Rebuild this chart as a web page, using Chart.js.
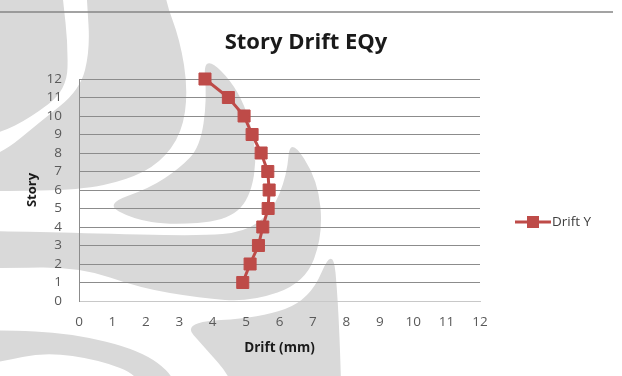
<!DOCTYPE html>
<html>
<head>
<meta charset="utf-8">
<script src="https://cdn.jsdelivr.net/npm/chart.js@4.4.0/dist/chart.umd.min.js"></script>
<style>
  html, body { margin: 0; padding: 0; background: #fff; }
  #wrap { width: 622px; height: 376px; }
</style>
</head>
<body>
<div id="wrap"><canvas id="chart" width="622" height="376"></canvas></div>
<script>
// Story levels and inter-storey drift (mm) for the EQy load case
const stories = [1, 2, 3, 4, 5, 6, 7, 8, 9, 10, 11, 12];
const driftY = [4.9, 5.12, 5.37, 5.5, 5.66, 5.69, 5.65, 5.45, 5.18, 4.94, 4.47, 3.77];
const driftRange = [0, 12];
const storyRange = [0, 12];

const seriesName = 'Drift Y';
const chartTitle = 'Story Drift EQy';
const xTitle = 'Drift (mm)';
const yTitle = 'Story';

const FONT = '"Open Sans", "DejaVu Sans", sans-serif';
const RED = '#BE4B48';

// faint logo shapes behind the chart
const logoShapes = [
  [[-30, -30], [60, -30], [63, 0], [68, 45], [67, 90], [30, 118], [0, 133], [-30, 138]],
  [[85, -30], [87, 0], [90, 50], [80, 90], [40, 122], [0, 155], [-30, 158], [-30, 192], [0, 191],
   [80, 190], [127, 180], [160, 163], [182, 133], [188, 90], [180, 40], [165, 0], [163, -30]],
  [[203, 53], [240, 90], [258, 150], [250, 200], [225, 221], [170, 225], [133, 219], [105, 204],
   [150, 188], [180, 168], [200, 147], [207, 100]],
  [[290, 137], [318, 180], [323, 235], [305, 283], [250, 302], [200, 298], [140, 288], [80, 267],
   [0, 268], [-30, 268], [-30, 231], [0, 231], [80, 233], [200, 236], [245, 232], [272, 212], [287, 175]],
  [[333, 245], [338, 300], [341, 376], [341, 400], [235, 400], [230, 376], [205, 348],
   [182, 322], [260, 318], [310, 300]],
  [[-30, 332], [0, 330], [70, 333], [140, 350], [175, 376], [175, 400], [140, 400], [140, 376],
   [100, 360], [45, 352], [0, 362], [-30, 365]]
];

function smoothPath(ctx, pts) {
  const n = pts.length;
  const mid = (a, b) => [(a[0] + b[0]) / 2, (a[1] + b[1]) / 2];
  const start = mid(pts[n - 1], pts[0]);
  ctx.beginPath();
  ctx.moveTo(start[0], start[1]);
  for (let i = 0; i < n; i++) {
    const p = pts[i];
    const m = mid(p, pts[(i + 1) % n]);
    ctx.quadraticCurveTo(p[0], p[1], m[0], m[1]);
  }
  ctx.closePath();
}

const watermark = {
  id: 'watermark',
  beforeDraw(chart) {
    const ctx = chart.ctx;
    ctx.save();
    ctx.fillStyle = '#fff';
    ctx.fillRect(0, 0, chart.width, chart.height);
    ctx.fillStyle = '#d9d9d9';
    logoShapes.forEach(pts => { smoothPath(ctx, pts); ctx.fill(); });
    // rule across the top of the page
    ctx.strokeStyle = '#858585';
    ctx.lineWidth = 1.5;
    ctx.beginPath();
    ctx.moveTo(0, 12);
    ctx.lineTo(613, 12);
    ctx.stroke();
    ctx.restore();
  }
};

// title and a single-entry legend on the right
const header = {
  id: 'header',
  afterDraw(chart) {
    const ctx = chart.ctx;
    const ds = chart.data.datasets[0];
    ctx.save();
    ctx.fillStyle = '#1a1a1a';
    ctx.font = 'bold 22px ' + FONT;
    ctx.textAlign = 'center';
    ctx.textBaseline = 'middle';
    ctx.fillText(chartTitle, 306, 43);

    const ly = 222;
    ctx.strokeStyle = ds.borderColor;
    ctx.lineWidth = 3;
    ctx.beginPath();
    ctx.moveTo(515, ly);
    ctx.lineTo(551, ly);
    ctx.stroke();
    ctx.fillStyle = ds.backgroundColor;
    ctx.fillRect(527, ly - 6, 12, 12);
    ctx.fillStyle = '#404040';
    ctx.font = '13.5px ' + FONT;
    ctx.textAlign = 'left';
    ctx.fillText(ds.label, 552, ly);
    ctx.restore();
  }
};

new Chart(document.getElementById('chart'), {
  type: 'scatter',
  data: {
    datasets: [{
      label: seriesName,
      data: stories.map((s, i) => ({ x: driftY[i], y: s })),
      showLine: true,
      clip: false,
      borderColor: RED,
      backgroundColor: RED,
      borderWidth: 3,
      pointStyle: 'rect',
      pointRadius: 8.5,
      pointBorderColor: RED,
      pointBorderWidth: 1,
      tension: 0
    }]
  },
  options: {
    responsive: false,
    animation: false,
    devicePixelRatio: 1,
    layout: { padding: { top: 79, right: 142, left: 0, bottom: 0 } },
    plugins: {
      legend: { display: false },
      title: { display: false },
      tooltip: { enabled: false }
    },
    scales: {
      x: {
        type: 'linear',
        min: driftRange[0],
        max: driftRange[1],
        ticks: { stepSize: 1, autoSkip: false, color: '#595959', font: { family: FONT, size: 13.5 }, padding: 13 },
        grid: { display: false, drawTicks: false },
        border: { display: true, color: '#c8c8c8', width: 1 },
        title: {
          display: true, text: xTitle, color: '#1a1a1a',
          font: { family: FONT, size: 13.5, weight: 'bold' },
          padding: { top: 0, bottom: 20 }
        },
        afterFit(scale) { scale.height = 75; }
      },
      y: {
        type: 'linear',
        min: storyRange[0],
        max: storyRange[1],
        ticks: { stepSize: 1, autoSkip: false, color: '#595959', font: { family: FONT, size: 13.5 }, padding: 17 },
        grid: {
          color: c => (c.tick && c.tick.value === 0 ? '#c8c8c8' : '#8c8c8c'),
          drawTicks: false
        },
        border: { display: true, color: '#8c8c8c', width: 1 },
        title: {
          display: true, text: yTitle, color: '#1a1a1a',
          font: { family: FONT, size: 13, weight: 'bold' },
          padding: { top: 24, bottom: 0 }
        },
        afterFit(scale) { scale.width = 79; }
      }
    }
  },
  plugins: [watermark, header]
});
</script>
</body>
</html>
